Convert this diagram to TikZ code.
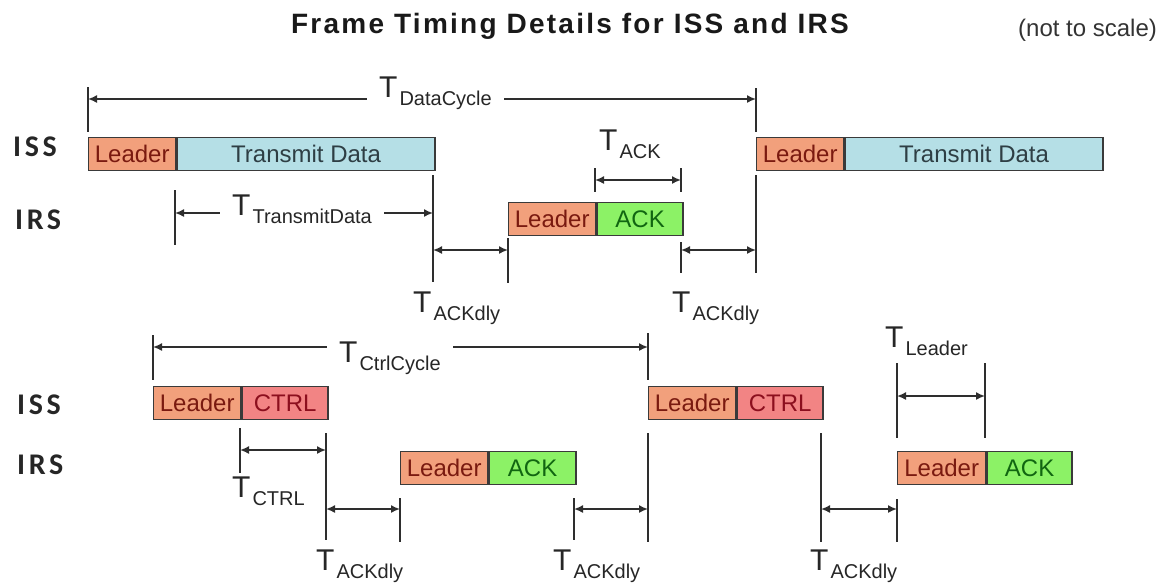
\documentclass[tikz,border=0pt]{standalone}
\usepackage{fontspec}
\setmainfont{Liberation Sans}
\newfontfamily\sidefont[LetterSpace=12]{Carlito}
\newfontfamily\headfont[LetterSpace=8]{Liberation Sans}
\usetikzlibrary{arrows.meta}

\definecolor{leadfill}{HTML}{F2A07C}
\definecolor{leadtext}{HTML}{7A1A10}
\definecolor{txfill}{HTML}{B5DFE6}
\definecolor{txtext}{HTML}{2E3E44}
\definecolor{ackfill}{HTML}{8CF266}
\definecolor{acktext}{HTML}{116611}
\definecolor{ctrlfill}{HTML}{F28484}
\definecolor{ctrltext}{HTML}{8C0F1E}
\definecolor{boxline}{HTML}{3A3A3A}
\definecolor{dimline}{HTML}{2E2E2E}

\newcommand{\tname}[1]{{\fontsize{30}{30}\selectfont T}\hspace{2pt}\raisebox{-8pt}{\fontsize{20}{20}\selectfont #1}}

\begin{document}
\begin{tikzpicture}[x=1pt, y=-1pt,
        segment/.style={draw=boxline, line width=1.4pt, minimum height=33pt, inner sep=0pt, anchor=north west, font=\fontsize{24}{24}\selectfont},
        leader/.style={segment, fill=leadfill, text=leadtext, minimum width=87pt},
        txdata/.style={segment, fill=txfill, text=txtext, minimum width=258pt},
        ackbox/.style={segment, fill=ackfill, text=acktext, minimum width=86pt},
        ctrlbox/.style={segment, fill=ctrlfill, text=ctrltext, minimum width=86pt},
        station/.style={anchor=west, inner sep=0pt, text=black!85, font=\sidefont\bfseries\fontsize{30}{30}\selectfont},
        tlabel/.style={anchor=base west, inner sep=0pt, text=black!85},
        tgap/.style={tlabel, fill=white, inner xsep=12pt},
        span/.style={draw=dimline, line width=1.6pt, {Latex[length=9pt,width=8pt]}-{Latex[length=9pt,width=8pt]}},
        tickline/.style={draw=dimline, line width=1.6pt},
    ]
    \useasboundingbox (0,0) rectangle (1171,587);

    % heading
    \node[anchor=base, inner sep=0pt, text=black!90, font=\headfont\bfseries\fontsize{28}{28}\selectfont] (title) at (570,33) {Frame Timing Details for ISS and IRS};
    \node[anchor=base west, inner sep=0pt, text=black!80, font=\fontsize{24}{24}\selectfont] (scale) at (1018,36) {(not to scale)};

    % data cycle
    \node[station] (issA) at (13,147) {ISS};
    \node[station] (irsA) at (15,220) {IRS};

    \node[leader] (leadA) at (88,137) {Leader};
    \node[txdata] (txA) at (leadA.north east) {Transmit Data};
    \node[leader] (leadB) at (508,202) {Leader};
    \node[ackbox] (ackB) at (leadB.north east) {ACK};
    \node[leader] (leadC) at (756,137) {Leader};
    \node[txdata] (txC) at (leadC.north east) {Transmit Data};

    \draw[tickline] (88,87) -- (88,132);
    \draw[tickline] (756,88) -- (756,132);
    \draw[tickline] (756,175) -- (756,273);
    \draw[tickline] (175,190) -- (175,245);
    \draw[tickline] (433,175) -- (433,282);
    \draw[tickline] (508,238) -- (508,283);
    \draw[tickline] (595,168) -- (595,192);
    \draw[tickline] (681,168) -- (681,192);
    \draw[tickline] (681,242) -- (681,273);

    \coordinate (dcL) at (88,99);
    \coordinate (dcR) at (756,99);
    \coordinate (tdL) at (175,213);
    \coordinate (tdR) at (433,213);
    \coordinate (akL) at (595,180);
    \coordinate (akR) at (681,180);
    \coordinate (d1L) at (433,250);
    \coordinate (d1R) at (508,250);
    \coordinate (d2L) at (681,250);
    \coordinate (d2R) at (756,250);

    \draw[span] (dcL) -- (dcR);
    \draw[span] (tdL) -- (tdR);
    \draw[span] (akL) -- (akR);
    \draw[span] (d1L) -- (d1R);
    \draw[span] (d2L) -- (d2R);

    \node[tgap] (tDataCycle) at (367,97) {\tname{DataCycle}};
    \node[tgap] (tTransmit) at (220,215) {\tname{TransmitData}};
    \node[tlabel] (tAck) at (599,150) {\tname{ACK}};
    \node[tlabel] (tDlyA) at (413,312) {\tname{ACKdly}};
    \node[tlabel] (tDlyB) at (672,312) {\tname{ACKdly}};

    % control cycle
    \node[station] (issB) at (17,405) {ISS};
    \node[station] (irsB) at (17,465) {IRS};

    \node[leader] (leadD) at (153,386) {Leader};
    \node[ctrlbox] (ctrlD) at (leadD.north east) {CTRL};
    \node[leader] (leadE) at (400,451) {Leader};
    \node[ackbox, minimum width=87pt] (ackE) at (leadE.north east) {ACK};
    \node[leader] (leadF) at (648,386) {Leader};
    \node[ctrlbox] (ctrlF) at (leadF.north east) {CTRL};
    \node[leader, minimum width=88pt] (leadG) at (897,451) {Leader};
    \node[ackbox, minimum width=85pt] (ackG) at (leadG.north east) {ACK};

    \draw[tickline] (153,335) -- (153,380);
    \draw[tickline] (648,333) -- (648,380);
    \draw[tickline] (648,433) -- (648,542);
    \draw[tickline] (240,428) -- (240,473);
    \draw[tickline] (326,433) -- (326,540);
    \draw[tickline] (400,498) -- (400,542);
    \draw[tickline] (574,498) -- (574,540);
    \draw[tickline] (821,433) -- (821,542);
    \draw[tickline] (897,499) -- (897,542);
    \draw[tickline] (897,363) -- (897,438);
    \draw[tickline] (985,363) -- (985,438);

    \coordinate (ccL) at (153,347);
    \coordinate (ccR) at (648,347);
    \coordinate (ctL) at (240,450);
    \coordinate (ctR) at (326,450);
    \coordinate (d3L) at (326,509);
    \coordinate (d3R) at (400,509);
    \coordinate (d4L) at (574,509);
    \coordinate (d4R) at (648,509);
    \coordinate (d5L) at (821,509);
    \coordinate (d5R) at (897,509);
    \coordinate (ldL) at (897,396);
    \coordinate (ldR) at (985,396);

    \draw[span] (ccL) -- (ccR);
    \draw[span] (ctL) -- (ctR);
    \draw[span] (d3L) -- (d3R);
    \draw[span] (d4L) -- (d4R);
    \draw[span] (d5L) -- (d5R);
    \draw[span] (ldL) -- (ldR);

    \node[tgap] (tCtrlCycle) at (327,362) {\tname{CtrlCycle}};
    \node[tlabel] (tCtrl) at (232,497) {\tname{CTRL}};
    \node[tlabel] (tDlyC) at (316,570) {\tname{ACKdly}};
    \node[tlabel] (tDlyD) at (553,570) {\tname{ACKdly}};
    \node[tlabel] (tDlyE) at (810,570) {\tname{ACKdly}};
    \node[tlabel] (tLeader) at (885,347) {\tname{Leader}};
\end{tikzpicture}
\end{document}
